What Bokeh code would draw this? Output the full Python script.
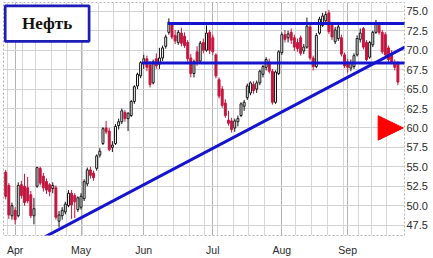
from bokeh.plotting import figure
from bokeh.models import Range1d, FixedTicker, NumeralTickFormatter
from bokeh.core.properties import value
from bokeh.embed import file_html
from bokeh.resources import INLINE

# ---- data: daily candles, trading-day index 0 = 27 Mar 2009 ----
opens = [54.3, 52.6, 48.7, 49.4, 48.7, 52.7, 52.5, 52.3, 51.4, 48.7,
         52.5, 54.8, 53.8, 53.1, 52.7, 52.2, 52.3, 48.0, 48.7, 49.2,
         50.0, 51.6, 51.3, 49.5, 49.8, 50.9, 52.8, 54.6, 54.2, 54.8,
         56.5, 58.0, 60.0, 59.6, 57.5, 58.0, 60.3, 60.8, 62.0, 61.2,
         61.6, 63.4, 65.4, 66.7, 68.4, 68.9, 68.1, 65.8, 68.9, 68.2,
         69.0, 70.5, 72.3, 73.3, 71.9, 71.0, 72.2, 71.8, 71.0, 69.0,
         67.0, 69.8, 68.6, 71.0, 70.0, 72.3, 71.6, 69.4, 66.2, 65.0,
         63.2, 61.0, 60.9, 60.0, 60.8, 61.6, 62.8, 63.9, 64.5, 65.6,
         65.0, 65.8, 66.9, 67.8, 68.5, 67.3, 63.3, 67.0, 69.7, 72.0,
         71.6, 72.3, 71.6, 71.0, 71.6, 69.9, 70.4, 73.0, 69.0, 67.9,
         72.2, 73.2, 73.8, 74.8, 73.2, 71.1, 71.5, 71.6, 69.4, 68.5,
         67.7, 67.9, 69.4, 71.4, 72.8, 71.0, 69.1, 70.7, 72.3, 73.2,
         72.3, 72.0, 70.3, 69.6, 68.4, 68.4]
highs = [54.6, 52.9, 50.4, 49.8, 53.0, 53.2, 54.1, 53.7, 51.9, 51.0,
         55.0, 55.0, 54.2, 53.5, 52.9, 53.0, 52.6, 49.3, 49.8, 50.5,
         52.0, 52.0, 51.6, 51.2, 51.6, 53.4, 54.9, 55.0, 54.5, 56.6,
         57.4, 60.1, 60.9, 60.0, 58.3, 60.5, 61.2, 62.5, 62.3, 62.0,
         63.6, 65.5, 67.1, 68.6, 69.4, 69.3, 68.6, 68.8, 69.6, 70.3,
         70.6, 72.0, 74.1, 73.6, 72.6, 72.6, 72.9, 72.3, 71.3, 69.5,
         68.8, 70.5, 71.2, 71.5, 73.2, 72.6, 72.0, 69.6, 66.5, 65.4,
         63.7, 62.2, 61.3, 61.2, 61.6, 63.3, 63.6, 65.7, 66.0, 66.0,
         66.1, 67.5, 68.1, 69.1, 68.9, 67.6, 67.4, 70.0, 72.3, 72.6,
         72.5, 72.8, 72.0, 71.5, 71.9, 70.8, 74.2, 73.3, 69.3, 72.2,
         74.3, 74.8, 75.0, 75.2, 73.6, 73.0, 73.6, 72.0, 69.7, 68.9,
         68.8, 69.6, 71.9, 72.8, 73.0, 71.3, 71.2, 72.5, 73.9, 73.5,
         72.6, 72.3, 70.6, 70.0, 68.8, 68.6]
lows = [50.8, 48.3, 48.2, 47.6, 48.5, 50.9, 50.0, 50.3, 48.4, 47.6,
        52.3, 52.6, 51.8, 51.5, 51.2, 51.6, 48.2, 47.2, 48.2, 48.9,
        49.8, 48.3, 48.4, 49.2, 49.5, 50.6, 52.5, 53.5, 53.2, 54.5,
        56.2, 57.8, 59.2, 57.0, 56.9, 57.8, 59.8, 60.5, 60.8, 59.6,
        61.4, 63.1, 65.0, 66.4, 67.6, 67.3, 65.2, 65.6, 67.6, 67.6,
        68.6, 70.2, 72.0, 71.4, 70.8, 70.7, 70.5, 70.3, 68.5, 66.5,
        66.5, 68.0, 68.3, 69.6, 69.8, 69.5, 69.4, 66.4, 63.8, 62.6,
        61.3, 60.3, 59.4, 59.5, 60.2, 61.4, 62.2, 63.6, 64.2, 64.4,
        64.5, 65.5, 66.5, 67.4, 67.0, 63.0, 63.1, 66.8, 69.4, 71.0,
        71.0, 70.8, 69.9, 69.8, 69.3, 69.5, 70.2, 68.7, 67.4, 67.7,
        72.0, 73.0, 73.5, 72.1, 71.3, 70.8, 71.2, 69.2, 67.7, 67.1,
        67.3, 67.6, 69.2, 71.0, 70.1, 68.6, 68.9, 70.4, 72.1, 72.0,
        69.5, 69.1, 68.5, 68.2, 67.4, 65.5]
closes = [51.2, 48.8, 50.0, 48.2, 52.6, 51.3, 50.4, 50.6, 48.7, 49.6,
          54.9, 52.9, 52.3, 52.0, 51.8, 52.6, 48.5, 48.8, 49.4, 50.2,
          51.6, 50.1, 50.5, 51.0, 51.2, 53.1, 54.6, 53.9, 53.6, 56.4,
          57.0, 59.9, 59.5, 57.2, 57.8, 60.2, 60.8, 62.2, 61.2, 61.9,
          63.4, 65.3, 66.9, 68.4, 68.9, 67.8, 65.6, 68.5, 68.0, 69.0,
          70.3, 71.7, 73.6, 71.7, 71.2, 72.3, 70.9, 70.6, 68.9, 67.0,
          68.5, 68.4, 70.9, 70.0, 72.2, 70.0, 69.8, 66.7, 64.1, 62.9,
          61.6, 60.6, 59.8, 60.9, 61.2, 63.1, 63.3, 65.4, 65.8, 64.8,
          65.8, 67.3, 67.9, 68.8, 67.3, 63.3, 67.2, 69.8, 72.0, 71.4,
          72.1, 71.3, 70.4, 70.2, 69.6, 70.4, 73.1, 69.0, 67.9, 71.9,
          74.0, 74.4, 74.6, 72.4, 71.7, 72.6, 73.0, 69.5, 68.0, 67.8,
          68.3, 69.3, 71.5, 72.2, 70.4, 68.8, 71.0, 72.3, 73.5, 72.3,
          69.8, 69.4, 68.8, 68.5, 67.8, 65.9]

month_days = [3, 24, 44, 66, 88, 109]          # first session of each month
month_labels = ["Apr", "May", "Jun", "Jul", "Aug", "Sep"]
week_days = [1, 6, 10, 15, 20, 25, 30, 35, 40, 49, 54, 59, 64, 68, 73, 78,
             83, 93, 98, 103, 108, 113, 117, 122]  # first session of each week
price_ticks = [47.5, 50.0, 52.5, 55.0, 57.5, 60.0, 62.5, 65.0, 67.5, 70.0,
               72.5, 75.0]

title_text = "Нефть"
resistance_level = 73.45
resistance_from = 51.7
support_level = 68.35
support_from = 43.4
trend_days = [12.1, 127.2]
trend_prices = [45.9, 70.4]
signal_price = 60.0

# ---- figure ----
RED = "#c5163f"
BLUE = "#1414cf"

days = list(range(len(opens)))
is_up = [c >= o for o, c in zip(opens, closes)]
body_top = [max(o, c) for o, c in zip(opens, closes)]
body_bot = [min(o, c) for o, c in zip(opens, closes)]
wick_col = ["#111111" if u else RED for u in is_up]
fill_col = ["#ffffff" if u else RED for u in is_up]

p = figure(width=433, height=258, output_backend="svg", toolbar_location=None,
           x_range=Range1d(-0.7, 127.1), y_range=Range1d(46.16, 76.14),
           y_axis_location="right",
           min_border_left=3, min_border_right=29, min_border_top=2,
           min_border_bottom=20)
p.title.visible = False
p.background_fill_color = "white"
p.border_fill_color = "white"
p.outline_line_color = "#b5b5b5"
p.outline_line_dash = "2 2"

xticker = FixedTicker(ticks=month_days,
                      minor_ticks=[d - 0.5 for d in week_days])
yticker = FixedTicker(ticks=price_ticks)

p.xaxis.ticker = xticker
p.xgrid.ticker = xticker
p.xaxis.major_label_overrides = {d: l for d, l in zip(month_days, month_labels)}
p.yaxis.ticker = yticker
p.ygrid.ticker = yticker
p.yaxis.formatter = NumeralTickFormatter(format="0.0")

for ax in (p.xaxis, p.yaxis):
    ax.axis_line_color = None
    ax.major_tick_line_color = None
    ax.minor_tick_line_color = None
    ax.major_tick_out = 0
    ax.major_tick_in = 0
    ax.major_label_text_font = "Liberation Sans"
    ax.major_label_text_color = "#2a2a2a"
p.yaxis.major_label_text_font_size = "11px"
p.yaxis.major_label_standoff = 2
p.xaxis.major_label_text_font_size = "10.5px"
p.xaxis.major_label_standoff = 4

p.xgrid.grid_line_color = "#b2b2b2"
p.xgrid.minor_grid_line_color = "#d6d6d6"
p.ygrid.grid_line_color = "#d2d2d2"

# candles
p.segment(x0=days, y0=lows, x1=days, y1=highs, line_color=wick_col, line_width=1)
p.vbar(x=days, top=body_top, bottom=body_bot, width=0.62,
       fill_color=fill_col, line_color=wick_col, line_width=1)

# drawn levels
x_end = p.x_range.end + 2
p.segment(x0=[resistance_from, support_from], x1=[x_end, x_end],
          y0=[resistance_level, support_level], y1=[resistance_level, support_level],
          line_color=BLUE, line_width=3)
p.line(trend_days, trend_prices, line_color=BLUE, line_width=3)

# signal arrow
p.patch(x=[118.7, 118.7, 126.7],
        y=[signal_price + 1.57, signal_price - 1.57, signal_price],
        fill_color="#ff0000", line_color="#ff0000")

# title box
p.quad(left=[-0.16], right=[26.58], top=[75.71], bottom=[71.15],
       fill_color="white", line_color="#1d1db8", line_width=2.7)
p.text(x=[13.2], y=[73.42], text=[title_text], text_font=value("Liberation Serif"),
       text_font_style="bold", text_font_size="17px", text_color="#111111",
       text_align="center", text_baseline="middle")

open("out.html", "w").write(file_html(p, INLINE))
